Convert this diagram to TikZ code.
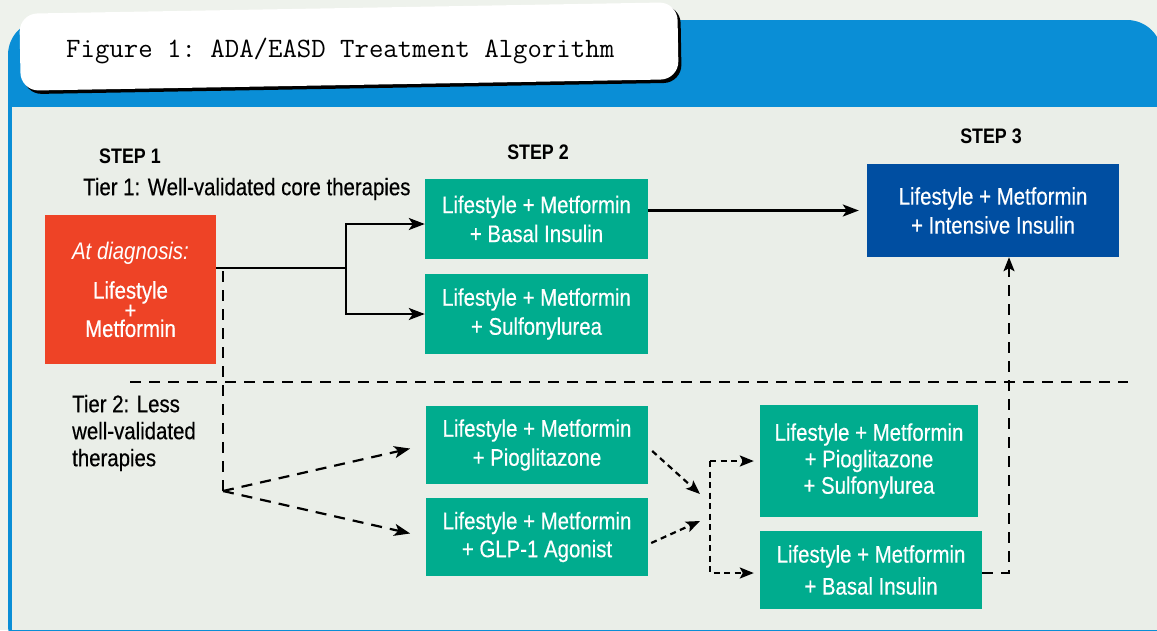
\documentclass[tikz,border=0pt]{standalone}
\usepackage{fontspec}
\setmainfont{Liberation Sans}[FakeStretch=0.85, UprightFeatures={FakeBold=0.4}]
\usetikzlibrary{arrows.meta,calc}
\definecolor{bgout}{HTML}{EEF2EC}
\definecolor{bgin}{HTML}{EAEEE8}
\definecolor{band}{HTML}{0A8ED6}
\definecolor{grn}{HTML}{00AC8E}
\definecolor{redbox}{HTML}{EE4326}
\definecolor{dblue}{HTML}{004EA1}
\begin{document}
\begin{tikzpicture}[x=1pt,y=-1pt,
  boxtext/.style={text=white, inner sep=0pt, align=center, font=\fontsize{24}{29}\selectfont},
  gbox/.style={boxtext, fill=grn, minimum width=222pt, minimum height=78pt},
  lbl/.style={inner sep=0pt, font=\fontsize{24}{27}\selectfont},
  steplbl/.style={inner sep=0pt, font=\fontsize{21}{24}\selectfont\bfseries},
  tip/.style={-{Stealth[length=16pt 0,width=12pt 0,inset=4pt 0]}},
  smalltip/.style={-{Stealth[length=14pt 0,width=11pt 0,inset=3pt 0]}},
  solidline/.style={line width=2.4pt},
  longdash/.style={line width=2.2pt, dash pattern=on 11pt off 8pt},
  shortdash/.style={line width=2.2pt, dash pattern=on 6pt off 4.5pt}]
\useasboundingbox (0,0) rectangle (1157,630);
% background and frame
\fill[bgout] (0,0) rectangle (1157,630);
\fill[band, rounded corners=35pt] (8,660) -- (8,20) -- (1162,20) -- (1162,660) -- cycle;
\fill[bgin] (11.5,107) rectangle (1157,630);
% title tab
\begin{scope}[rotate around={1:(349,46)}]
  \fill[black, rounded corners=18pt] (23,11) rectangle (681,88.5);
  \fill[white, rounded corners=18pt] (20,8) rectangle (678,85);
  \node[anchor=base, inner sep=0pt, font=\ttfamily\fontsize{28}{30}\selectfont] (title) at (340,57) {\frenchspacing Figure 1: ADA/EASD Treatment Algorithm};
\end{scope}
% labels
\node[steplbl] (s1) at (130,156) {STEP 1};
\node[steplbl] (s2) at (538,152) {STEP 2};
\node[steplbl] (s3) at (991,136) {STEP 3};
\node[lbl, anchor=west] (tier1) at (83,189) {Tier 1: Well-validated core therapies};
\node[lbl, anchor=west, align=left] (tier2) at (72,433) {Tier 2: Less\\well-validated\\therapies};
% boxes
\node[boxtext, fill=redbox, minimum width=171pt, minimum height=149pt, font=\fontsize{24}{18.5}\selectfont] (red) at (130.5,289.5)
  {\textit{At diagnosis:}\\[16pt]Lifestyle\\+\\Metformin};
\node[gbox, minimum width=223pt, minimum height=80pt] (g1) at (536.5,219) {Lifestyle + Metformin\\+ Basal Insulin};
\node[gbox, minimum width=223pt, minimum height=80pt] (g2) at (536.5,314) {Lifestyle + Metformin\\+ Sulfonylurea};
\node[gbox] (g3) at (537,445) {Lifestyle + Metformin\\+ Pioglitazone};
\node[gbox, font=\fontsize{24}{28}\selectfont] (g4) at (537,537) {Lifestyle + Metformin\\+ GLP-1 Agonist};
\node[gbox, minimum width=218pt, minimum height=112pt, font=\fontsize{24}{26.5}\selectfont] (g5) at (869,461) {Lifestyle + Metformin\\+ Pioglitazone\\+ Sulfonylurea};
\node[gbox, font=\fontsize{24}{32}\selectfont] (g6) at (871,570) {Lifestyle + Metformin\\+ Basal Insulin};
\node[boxtext, fill=dblue, minimum width=252pt, minimum height=93pt] (blue) at (993,210.5) {Lifestyle + Metformin\\+ Intensive Insulin};
% tier divider
\draw[longdash] (130,382) -- (1128,382);
% tier 1 connectors
\coordinate (j1) at (346,268);
\draw[solidline] (red.east |- j1) -- (j1);
\draw[solidline, tip] (j1) |- ([yshift=-5pt]g1.west);
\draw[solidline, tip] (j1) |- (g2.west);
\draw[solidline, tip, shorten >=8pt] (g1.east |- blue.west) -- (blue.west);
% tier 2 connectors
\coordinate (d0) at (223,271);
\coordinate (j2) at (223,491);
\draw[longdash] (d0) -- (j2);
\draw[longdash, tip, shorten >=16pt] (j2) -- (g3.west);
\draw[longdash, tip, shorten >=16pt] (j2) -- (g4.west);
\coordinate (t1) at (700,494);
\coordinate (t2) at (700,521);
\draw[shortdash, smalltip] ([shift={(4pt,-6pt)}]g3.east) -- (t1);
\draw[shortdash, smalltip] ([shift={(3pt,-6pt)}]g4.east) -- (t2);
\coordinate (b1) at (710,461);
\coordinate (b2) at (710,573);
\draw[shortdash, smalltip, shorten >=6pt] (b1) -- (g5.west);
\draw[shortdash, smalltip, shorten >=6pt] (b1) -- (b2) -- (g6.west |- b2);
\coordinate (u) at (1009,573);
\draw[longdash, smalltip] (g6.east |- u) -- (u) -- (u |- blue.south);
\end{tikzpicture}
\end{document}
